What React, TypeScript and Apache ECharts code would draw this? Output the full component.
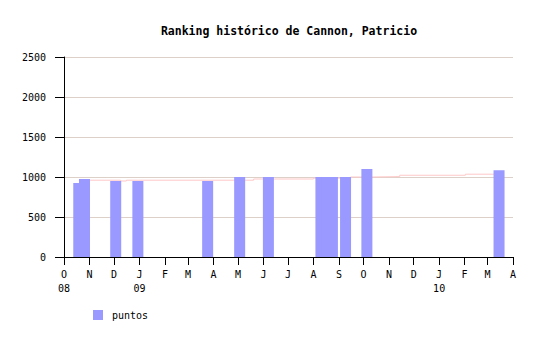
import React, { useEffect, useRef } from "react";
import * as echarts from "echarts";

// Bar data: tournament dates and points
const barDates: string[] = [
  "2008-10-19", "2008-10-26", "2008-12-03", "2008-12-30", "2009-03-25",
  "2009-05-03", "2009-06-07", "2009-08-10", "2009-08-17", "2009-08-24",
  "2009-09-09", "2009-10-05", "2010-03-15",
];
const barValues: number[] = [925, 975, 950, 950, 950, 1000, 1000, 1000, 1000, 1000, 1000, 1100, 1085];

// Ranking trend (step line)
const lineDates: string[] = [
  "2008-10-19", "2008-12-09", "2008-12-16", "2009-05-20", "2009-08-01",
  "2009-09-15", "2009-10-11", "2009-11-14", "2010-02-02", "2010-03-15",
];
const lineValues: number[] = [960, 950, 960, 975, 985, 1000, 1005, 1022, 1035, 1035];

const monthLetters: string[] = ["J", "F", "M", "A", "M", "J", "J", "A", "S", "O", "N", "D"];
const yTicks: number[] = [0, 500, 1000, 1500, 2000, 2500];

const titleText = "Ranking histórico de Cannon, Patricio";
const legendName = "puntos";

function toTime(s: string): number {
  const [y, m, d] = s.split("-").map(Number);
  return new Date(y, m - 1, d).getTime();
}

const axisMin = new Date(2008, 9, 1).getTime();
const axisMax = new Date(2010, 3, 1).getTime();
const FONT = "DejaVu Sans Mono";

export default function App() {
  const ref = useRef<HTMLDivElement>(null);
  useEffect(() => {
    if (!ref.current) return;
    const chart = echarts.init(ref.current, undefined, { renderer: "svg" });
    const DAY = 86400000;
    chart.setOption({
      animation: false,
      backgroundColor: "#ffffff",
      title: {
        text: titleText,
        left: 284,
        textAlign: "center",
        top: 20,
        textStyle: { fontFamily: FONT, fontSize: 11.5, fontWeight: "bold", color: "#000" },
      },
      legend: {
        data: [legendName],
        left: 88,
        top: 305,
        itemWidth: 10,
        itemHeight: 10,
        icon: "rect",
        textStyle: { fontFamily: FONT, fontSize: 10, color: "#000", padding: [0, 0, 0, 4] },
      },
      grid: { left: 64, right: 27, top: 57, bottom: 83, containLabel: false },
      xAxis: [
        {
          // data axis (timestamps), hidden
          type: "value",
          min: axisMin,
          max: axisMax,
          show: false,
          position: "bottom",
          splitLine: { show: false },
        },
        {
          // visible month axis
          type: "time",
          min: axisMin,
          max: axisMax,
          position: "bottom",
          splitNumber: 18,
          minInterval: 28 * DAY,
          maxInterval: 31 * DAY,
          axisLine: { lineStyle: { color: "#000", width: 1 } },
          axisTick: { show: true, length: 8, lineStyle: { color: "#000" } },
          splitLine: { show: false },
          axisLabel: {
            fontFamily: FONT,
            fontSize: 10,
            color: "#000",
            lineHeight: 14,
            margin: 10,
            hideOverlap: false,
            showMinLabel: true,
            showMaxLabel: true,
            formatter: (value: number) => {
              const d = new Date(value);
              const m = d.getMonth();
              let s = monthLetters[m];
              if (m === 0 || value === axisMin) {
                s += "\n" + String(d.getFullYear() % 100).padStart(2, "0");
              }
              return s;
            },
          },
        },
      ],
      yAxis: {
        type: "value",
        min: yTicks[0],
        max: yTicks[yTicks.length - 1],
        interval: 500,
        axisLine: { show: true, lineStyle: { color: "#000", width: 1 } },
        axisTick: { show: true, length: 9, lineStyle: { color: "#000" } },
        splitLine: { show: true, lineStyle: { color: "#ddd0c8", width: 1 } },
        axisLabel: {
          fontFamily: FONT,
          fontSize: 10,
          color: "#000",
          margin: 18,
          formatter: (v: number) => String(v),
        },
      },
      series: [
        {
          name: "ranking",
          type: "line",
          xAxisIndex: 0,
          step: "end",
          z: 1,
          symbol: "none",
          lineStyle: { color: "#ffc8c8", width: 1 },
          data: lineDates.map((d, i) => [toTime(d), lineValues[i]]),
        },
        {
          name: legendName,
          type: "bar",
          xAxisIndex: 0,
          z: 2,
          barWidth: 11,
          itemStyle: { color: "#9999ff" },
          data: barDates.map((d, i) => [toTime(d), barValues[i]]),
        },
      ],
    });
    return () => chart.dispose();
  }, []);
  return (
    <div
      ref={ref}
      style={{ position: "absolute", left: 0, top: 0, width: 540, height: 340 }}
    />
  );
}
